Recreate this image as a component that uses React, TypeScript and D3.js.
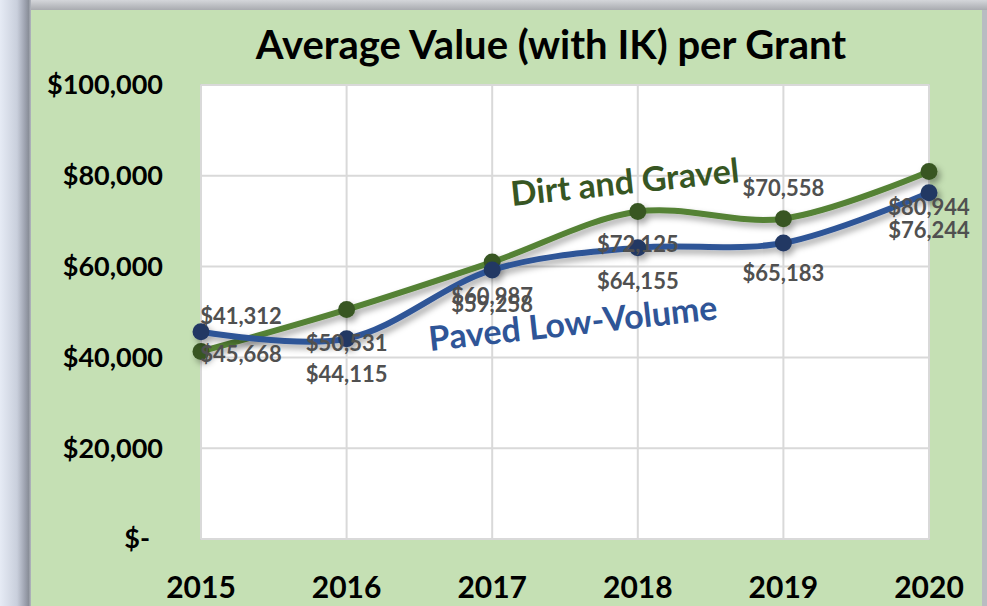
import React from "react";
import * as d3 from "d3";

const years = ["2015", "2016", "2017", "2018", "2019", "2020"];
const dirtGravel = [41312, 50531, 60987, 72125, 70558, 80944];
const pavedLowVolume = [45668, 44115, 59258, 64155, 65183, 76244];
const yTicks = [0, 20000, 40000, 60000, 80000, 100000];
const titleText = "Average Value (with IK) per Grant";
const seriesNames = ["Dirt and Gravel", "Paved Low-Volume"];

// layout-only offsets for data labels (pixels)
const greenLabelDy = [-35, 34, 34, 33, -30, 36];
const blueLabelDy = [23, 36, 34, 34, 30, 37];
const labelDx = [40, 0, 0, 0, 0, 0];

const W = 987;
const H = 606;
const plot = { left: 201, right: 929, top: 85, bottom: 539 };

const fmtMoney = (v: number) => (v === 0 ? "$-" : "$" + d3.format(",")(v));

export default function App() {
  const x = d3
    .scalePoint<string>()
    .domain(years)
    .range([plot.left, plot.right]);
  const y = d3.scaleLinear().domain([0, 100000]).range([plot.bottom, plot.top]);

  const line = d3
    .line<number>()
    .x((_, i) => x(years[i]) as number)
    .y((d) => y(d))
    .curve(d3.curveCatmullRom.alpha(0.5));

  const series = [
    {
      name: seriesNames[0],
      values: dirtGravel,
      lineColor: "#548235",
      markerColor: "#385723",
      dy: greenLabelDy,
    },
    {
      name: seriesNames[1],
      values: pavedLowVolume,
      lineColor: "#2f5597",
      markerColor: "#203864",
      dy: blueLabelDy,
    },
  ];

  const font = "Lato, 'Open Sans', 'DejaVu Sans', sans-serif";

  return (
    <svg
      width={W}
      height={H}
      style={{ position: "absolute", left: 0, top: 0, display: "block" }}
      fontFamily={font}
    >
      <defs>
        <linearGradient id="leftEdge" x1="0" x2="1" y1="0" y2="0">
          <stop offset="0" stopColor="#e6ebf5" />
          <stop offset="0.55" stopColor="#c9cfdc" />
          <stop offset="0.8" stopColor="#9ea3b0" />
          <stop offset="0.92" stopColor="#8a8f99" />
          <stop offset="1" stopColor="#b4b8c0" />
        </linearGradient>
        <linearGradient id="topEdge" x1="0" x2="0" y1="0" y2="1">
          <stop offset="0" stopColor="#d4d6da" />
          <stop offset="1" stopColor="#a9abb0" />
        </linearGradient>
        <filter id="shadow" x="-10%" y="-20%" width="130%" height="160%">
          <feDropShadow dx="3" dy="4" stdDeviation="3" floodColor="#000" floodOpacity="0.35" />
        </filter>
      </defs>

      <rect x={0} y={0} width={W} height={H} fill="#b9bcc2" />
      <rect x={0} y={0} width={31} height={H} fill="url(#leftEdge)" />
      <rect x={31} y={0} width={W - 31} height={10} fill="url(#topEdge)" />
      <rect x={31} y={10} width={982 - 31} height={H - 10} fill="#c5e0b4" />

      {/* plot area */}
      <rect
        x={plot.left}
        y={plot.top}
        width={plot.right - plot.left}
        height={plot.bottom - plot.top}
        fill="#ffffff"
        stroke="#d0d0d0"
        strokeWidth={2}
      />
      {yTicks.map((t) => (
        <line
          key={"h" + t}
          x1={plot.left}
          x2={plot.right}
          y1={y(t)}
          y2={y(t)}
          stroke="#d9d9d9"
          strokeWidth={2}
        />
      ))}
      {years.map((yr) => (
        <line
          key={"v" + yr}
          x1={x(yr)}
          x2={x(yr)}
          y1={plot.top}
          y2={plot.bottom}
          stroke="#d9d9d9"
          strokeWidth={2}
        />
      ))}

      {/* title */}
      <text
        x={551}
        y={59}
        textAnchor="middle"
        fontSize={40}
        fontWeight={700}
        fill="#000"
      >
        {titleText}
      </text>

      {/* y axis labels */}
      {yTicks.map((t) => (
        <text
          key={"yl" + t}
          x={163}
          dx={t === 0 ? -13 : 0}
          y={y(t)}
          dy="0.35em"
          textAnchor="end"
          fontSize={27}
          fontWeight={700}
          fill="#000"
        >
          {fmtMoney(t)}
        </text>
      ))}

      {/* x axis labels */}
      {years.map((yr) => (
        <text
          key={"xl" + yr}
          x={x(yr)}
          y={587}
          dy="0.35em"
          textAnchor="middle"
          fontSize={30}
          fontWeight={700}
          fill="#000"
        >
          {yr}
        </text>
      ))}

      {/* series */}
      {series.map((s) => (
        <g key={s.name} filter="url(#shadow)">
          <path d={line(s.values) || ""} fill="none" stroke={s.lineColor} strokeWidth={6} />
          {s.values.map((v, i) => (
            <circle key={i} cx={x(years[i])} cy={y(v)} r={8.5} fill={s.markerColor} />
          ))}
        </g>
      ))}

      {/* data labels */}
      {series.map((s) =>
        s.values.map((v, i) => (
          <text
            key={s.name + "lbl" + i}
            x={(x(years[i]) as number) + labelDx[i]}
            y={y(v) + s.dy[i]}
            dy="0.35em"
            textAnchor="middle"
            fontSize={22}
            fontWeight={700}
            fill="#505050"
          >
            {fmtMoney(v)}
          </text>
        ))
      )}

      {/* series name annotations */}
      <text
        x={0}
        y={0}
        transform="translate(512,206) rotate(-6)"
        fontSize={34}
        fontWeight={700}
        fill="#375623"
      >
        {seriesNames[0]}
      </text>
      <text
        x={0}
        y={0}
        transform="translate(430,351) rotate(-6.3)"
        fontSize={34}
        fontWeight={700}
        fill="#2f5597"
      >
        {seriesNames[1]}
      </text>
    </svg>
  );
}
